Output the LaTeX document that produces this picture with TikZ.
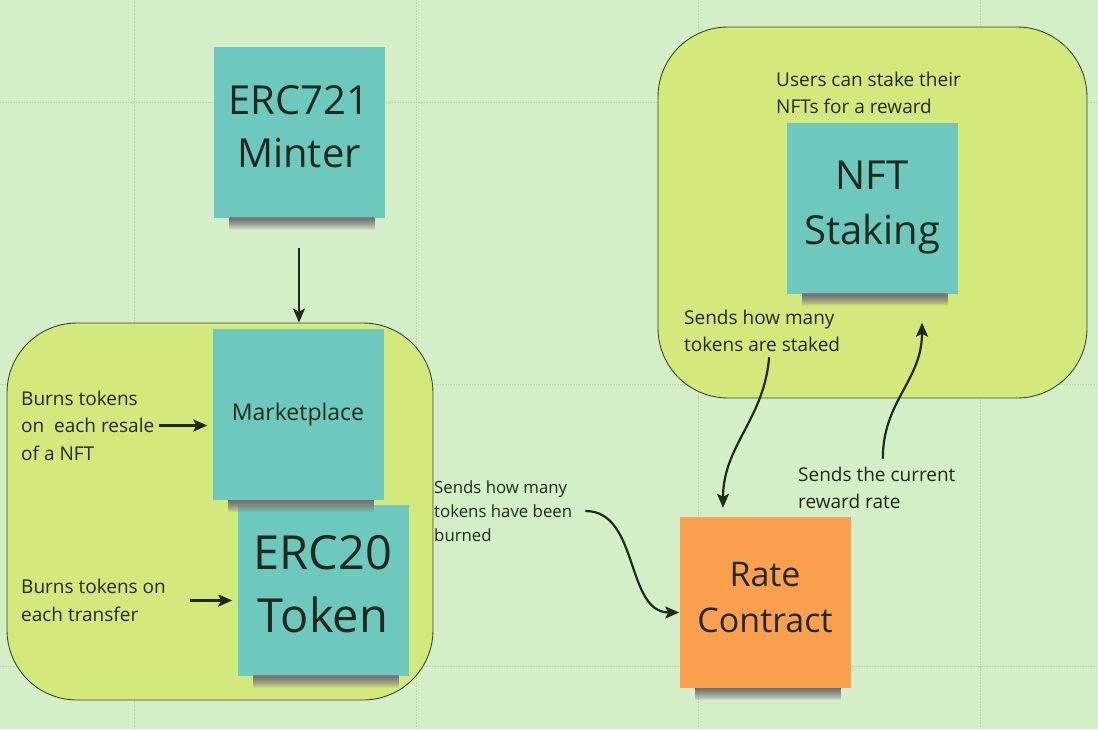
\documentclass[tikz,border=0pt]{standalone}
\usepackage{fontspec}
\setmainfont{Open Sans}
\usetikzlibrary{arrows.meta}
\usetikzlibrary{fadings}
\definecolor{paper}{HTML}{D4EFC8}
\definecolor{lime}{HTML}{D3E97C}
\definecolor{sticky}{HTML}{6DC8BE}
\definecolor{peach}{HTML}{FBA04D}
\definecolor{ink}{HTML}{1F2A1C}
\definecolor{rim}{HTML}{3B4A2C}
\definecolor{shade}{HTML}{8C9A5E}
\definecolor{gridc}{HTML}{B7D2AA}

\begin{document}
\begin{tikzpicture}[x=1pt,y=-1pt,>={Stealth[length=14pt,width=12pt,inset=3pt]},
		note/.style={rectangle,fill=sticky,minimum width=171pt,minimum height=171pt,
			align=center,text=ink},
		group/.style={rectangle,draw=rim,line width=.9pt,fill=lime,rounded corners=70pt},
		remark/.style={align=left,inner sep=0pt,text=ink,font=\fontsize{19}{27.5}\selectfont},
		link/.style={->,line width=2.2pt,draw=ink}]
		\useasboundingbox (0,0) rectangle (1098,729);
		\fill[paper] (0,0) rectangle (1098,729);
		\foreach \gx in {134,416,698,980}
		\draw[gridc,densely dotted,line width=.6pt] (\gx,0) -- (\gx,729);
		\foreach \gy in {102,384,666}
		\draw[gridc,densely dotted,line width=.6pt] (0,\gy) -- (1098,\gy);
		
		\node[group,minimum width=426pt,minimum height=377pt] (burngroup) at (220,511.5) {};
		\node[group,minimum width=429pt,minimum height=371pt] (stakegroup) at (872.5,212.5) {};
		
		\node[note,font=\fontsize{40}{53}\selectfont,text depth=10pt] (minter) at (299,132) {ERC721\\Minter};
		\node[note,font=\fontsize{23}{28}\selectfont] (market) at (298,414.5) {Marketplace};
		\node[note,font=\fontsize{47}{63}\selectfont,text depth=12pt] (token) at (323,590) {ERC20\\Token};
		\node[note,font=\fontsize{40}{55}\selectfont] (staking) at (872,208) {NFT\\Staking};
		\node[note,fill=peach,font=\fontsize{34}{46}\selectfont,text depth=10pt] (rate) at (765,602.5) {Rate\\Contract};
		\foreach \n in {minter,market,token,staking,rate}
		\fill[shade,opacity=.85,path fading=south] ([xshift=16pt]\n.south west) rectangle ([xshift=-10pt,yshift=-12pt]\n.south east);
		
		\node[remark,anchor=west] (resale) at (21,425.5) {Burns tokens\\on\ \ each resale\\of a NFT};
		\node[remark,anchor=west] (transfer) at (21,600.5) {Burns tokens on\\each transfer};
		\node[remark,anchor=west,font=\fontsize{16.8}{24}\selectfont] (burned) at (434,511) {Sends how many\\tokens have been\\burned};
		\node[remark,anchor=west] (users) at (776,93) {Users can stake their\\NFTs for a reward};
		\node[remark,anchor=west] (staked) at (684,331) {Sends how many\\tokens are staked};
		\node[remark,anchor=west] (reward) at (798,488) {Sends the current\\reward rate};
		
		\path
		(minter.south) edge [link,shorten <=30pt] (minter.south |- burngroup.north)
		(resale.east) edge [link,shorten <=5pt,shorten >=5pt] (resale.east -| market.west)
		(transfer.east) edge [link,shorten <=24pt,shorten >=5pt] (transfer.east -| token.west);
		\draw[link] ([xshift=13pt]burned.east) .. controls +(54,0) and +(-54,0) .. ([yshift=-10pt]rate.west);
		\draw[link] ([xshift=7pt,yshift=-5pt]staked.south) .. controls +(-5,62) and +(0,-62) .. ([xshift=-42pt,yshift=9pt]rate.north);
		\draw[link] ([xshift=6pt,yshift=8pt]reward.north) .. controls +(0,-58) and +(0,58) .. ([xshift=50pt,yshift=-29pt]staking.south);
	\end{tikzpicture}
\end{document}
